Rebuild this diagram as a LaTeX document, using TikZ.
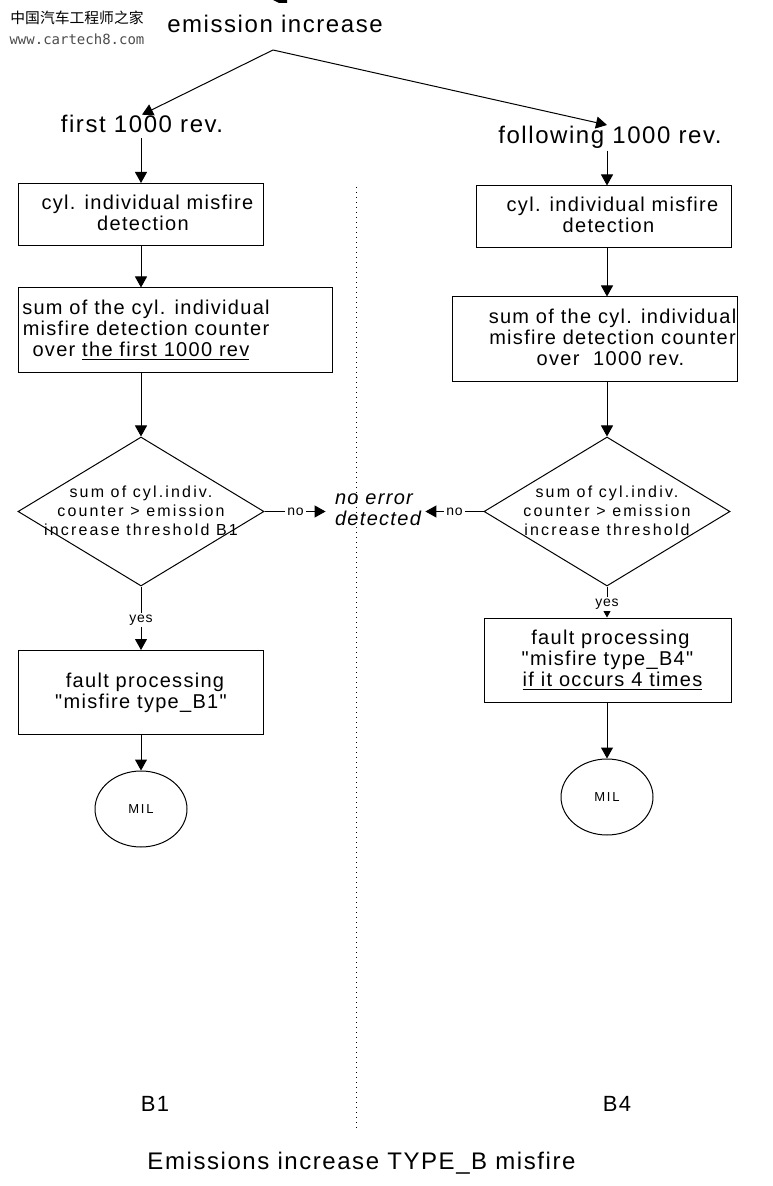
\documentclass[tikz,border=0pt]{standalone}
\usepackage{fontspec}
\setmainfont[LetterSpace=6.5,Ligatures=TeXOff]{Liberation Sans}
\newfontfamily\smallfont[LetterSpace=13.5]{Liberation Sans}
\newfontfamily\answerfont[LetterSpace=6]{Liberation Sans}
\newfontfamily\cjkfont{Noto Sans CJK SC}
\newfontfamily\urlfont{DejaVu Sans Mono}
\usetikzlibrary{arrows.meta,shapes.geometric}
\newcommand{\boxsize}{\fontsize{10}{10.5}\selectfont}
\newcommand{\headsize}{\fontsize{12}{12}\selectfont}
\newcommand{\tinysize}{\smallfont\fontsize{8}{9.5}\selectfont}
\newcommand{\lift}{\rule[-2pt]{0pt}{0pt}}
\tikzset{
 box/.style={draw,rectangle,inner sep=0pt,align=center,font=\boxsize},
 head/.style={inner sep=0pt,font=\headsize},
 cond/.style={draw,diamond,inner sep=0pt,minimum width=123pt,minimum height=74.5pt},
 lamp/.style={draw,ellipse,inner sep=0pt,minimum width=46pt,minimum height=38pt,font=\smallfont\fontsize{6.5}{7}\selectfont},
 answer/.style={fill=white,inner sep=1pt,font=\answerfont\fontsize{7}{7}\selectfont},
 flow/.style={-{Triangle[length=5.5pt,width=6pt]}},
}
\begin{document}
\begin{tikzpicture}[x=0.5pt,y=-0.5pt,line width=0.5pt]
\useasboundingbox (0,0) rectangle (772,1186);
% watermark
\node[inner sep=0pt,font=\cjkfont\fontsize{7.4}{8}\selectfont] (markcn) at (77,18) {中国汽车工程师之家};
\node[inner sep=0pt,text=black!70,font=\urlfont\fontsize{7}{8}\selectfont] (markurl) at (77,39) {www.cartech8.com};
% separator
\draw[dotted] (356,187)--(356,1128);
% head
\fill (273,0)--(287,0)--(287,3)--(279,3)--cycle;
\node[head] (emission) at (275,24) {emission increase};
\coordinate (apex) at (273,50);
\coordinate (followingtop) at (607,125);
\node[head] (first) at (142,124) {first 1000 rev.};
\node[head] (following) at (610,137) {following 1000 rev.};
\draw[flow] (apex)--(first.north);
\draw[flow] (apex)--(followingtop);
% left column
\node[box,minimum width=122.5pt,minimum height=31pt] (cylA) at (141,214.5) {\hspace*{6.5pt}cyl. individual misfire\\\hspace*{2pt}detection\lift};
\node[box,minimum width=157pt,minimum height=42.5pt] (sumA) at (175,330.5) {\hspace*{-29pt}sum of the cyl. individual\\\hspace*{-29pt}misfire detection counter\\\hspace*{-34pt}over \underline{the first 1000 rev}};
\node[cond,label={[font=\tinysize,align=center,yshift=0.5pt]center:sum of cyl.indiv.\\counter > emission\\increase threshold B1}] (condA) at (141,511.5) {};
\node[box,minimum width=122.5pt,minimum height=42pt] (faultA) at (141,692.5) {\hspace*{4pt}fault processing\\"misfire type\_B1"};
\node[lamp] (milA) at (141,809) {MIL};
% right column
\node[box,minimum width=127.5pt,minimum height=31pt] (cylB) at (603.5,217) {\hspace*{9pt}cyl. individual misfire\\\hspace*{5pt}detection\lift};
\node[box,minimum width=142.5pt,minimum height=42.5pt] (sumB) at (594.5,339.5) {\hspace*{18pt}sum of the cyl. individual\\\hspace*{18pt}misfire detection counter\\\hspace*{16pt}over~~1000 rev.\lift};
\node[cond,label={[font=\tinysize,align=center,yshift=0.5pt]center:sum of cyl.indiv.\\counter > emission\\increase threshold}] (condB) at (607,511.5) {};
\node[box,minimum width=123.5pt,minimum height=42pt] (faultB) at (607.5,660) {\hspace*{3pt}fault processing\\"misfire type\_B4"\\\hspace*{5pt}\underline{if it occurs 4 times}};
\node[lamp] (milB) at (607,797) {MIL};
% middle
\node[inner xsep=2pt,inner ysep=0pt,align=left,font=\itshape\boxsize] (noerror) at (378,510) {no error\\detected};
\draw[flow] (cylA.north |- first.south)+(0,5) -- (cylA.north);
\draw[flow] (cylA.south)--(cylA.south |- sumA.north);
\draw[flow] (condA.north |- sumA.south)--(condA.north);
\draw[flow] (condA.south)--node[answer,pos=.53]{yes}(faultA.north);
\draw[flow] (faultA.south)--(milA.north);
\draw[flow,shorten >=2.5pt] (condA.east)--node[answer,pos=.47]{no}(condA.east -| noerror.west);
\draw[flow] (condB.north |- following.south)+(0,2) -- (condB.north |- cylB.north);
\draw[flow] (condB.north |- cylB.south)--(condB.north |- sumB.north);
\draw[flow] (condB.north |- sumB.south)--(condB.north);
\draw[flow] (condB.south)--node[answer,pos=.56]{yes}(condB.south |- faultB.north);
\draw[flow] (condB.south |- faultB.south)--(milB.north);
\draw[flow] (condB.west)--node[answer]{no}(condB.west -| noerror.east);
% footer
\node[inner sep=0pt,font=\fontsize{11}{11}\selectfont] (labelA) at (155,1104) {B1};
\node[inner sep=0pt,font=\fontsize{11}{11}\selectfont] (labelB) at (617,1104) {B4};
\node[head,font=\fontsize{12}{12}\selectfont] (caption) at (361.5,1163) {Emissions increase TYPE\_B misfire};
\end{tikzpicture}
\end{document}
